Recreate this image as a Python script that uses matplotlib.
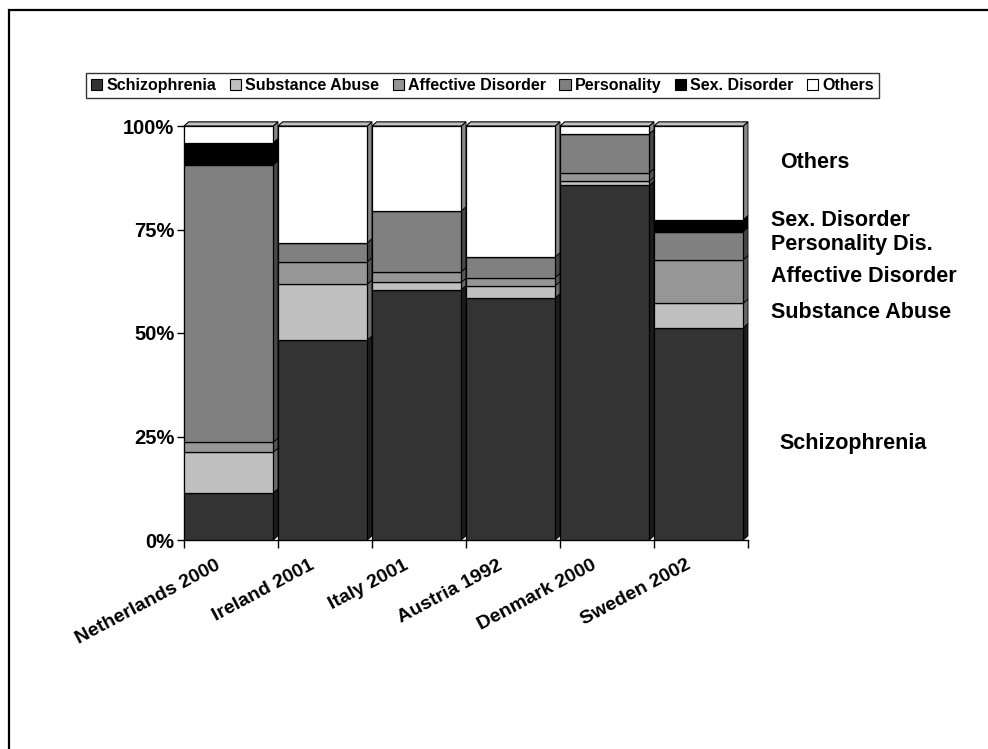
import numpy as np
import matplotlib.pyplot as plt
from matplotlib.patches import Polygon, Rectangle

plt.rcParams['font.family'] = ['Liberation Sans', 'DejaVu Sans']
plt.rcParams['font.weight'] = 'bold'

# data (percent of patients per diagnosis group)
countries = ['Netherlands 2000', 'Ireland 2001', 'Italy 2001', 'Austria 1992',
             'Denmark 2000', 'Sweden 2002']
series_names = ['Schizophrenia', 'Substance Abuse', 'Affective Disorder',
                'Personality', 'Sex. Disorder', 'Others']
schizophrenia = [11.4, 48.3, 60.5, 58.5, 85.7, 51.3]
substance_abuse = [9.8, 13.5, 1.7, 2.9, 0.9, 5.9]
affective = [2.4, 5.4, 2.6, 2.0, 2.1, 10.5]
personality = [67.0, 4.6, 14.7, 5.0, 9.4, 6.8]
sex_disorder = [5.4, 0, 0, 0, 0, 2.9]
others = [4.0, 28.2, 20.5, 31.6, 1.9, 22.6]
right_labels = ['Others', 'Sex. Disorder', 'Personality Dis.',
                'Affective Disorder', 'Substance Abuse', 'Schizophrenia']

series = [schizophrenia, substance_abuse, affective, personality, sex_disorder, others]
front_colors = ['#333333', '#c0c0c0', '#969696', '#808080', '#000000', '#ffffff']
side_colors = ['#1c1c1c', '#6a6a6a', '#555555', '#474747', '#000000', '#888888']

fig = plt.figure(figsize=(9.88, 7.49), dpi=100)
ax = fig.add_axes([184 / 988, 1 - 540 / 749, 564 / 988, 414 / 749])

x = np.arange(len(countries))
w = 0.95    # front face width
dx = 0.05   # depth in x (data units)
dy = 1.0    # depth in y (percent)

bottom = np.zeros(len(countries))
for vals, fc, sc, name in zip(series, front_colors, side_colors, series_names):
    vals = np.array(vals, dtype=float)
    ax.bar(x, vals, width=w, bottom=bottom, align='edge', color=fc,
           edgecolor='black', linewidth=0.9, label=name, zorder=3)
    # right side faces for the 3d look
    for i in range(len(x)):
        if vals[i] <= 0:
            continue
        x1 = x[i] + w
        b, t = bottom[i], bottom[i] + vals[i]
        side = Polygon([(x1, b), (x1 + dx, b + dy), (x1 + dx, t + dy), (x1, t)],
                       closed=True, facecolor=sc, edgecolor='black',
                       linewidth=0.6, zorder=2, clip_on=False)
        ax.add_patch(side)
    bottom += vals

# top faces
for i in range(len(x)):
    top = Polygon([(x[i], bottom[i]), (x[i] + dx, bottom[i] + dy),
                   (x[i] + w + dx, bottom[i] + dy), (x[i] + w, bottom[i])],
                  closed=True, facecolor='#c0c0c0', edgecolor='black',
                  linewidth=0.8, zorder=4, clip_on=False)
    ax.add_patch(top)

ax.set_xlim(0, len(countries))
ax.set_ylim(0, 100)
ax.spines['top'].set_visible(False)
ax.spines['right'].set_visible(False)
ax.spines['left'].set_linewidth(1.0)
ax.spines['bottom'].set_linewidth(1.0)

ax.set_yticks([0, 25, 50, 75, 100])
ax.set_yticklabels(['0%', '25%', '50%', '75%', '100%'], fontsize=14.5, fontweight='bold')
ax.tick_params(axis='y', direction='out', length=5, width=1, pad=2)

ax.set_xticks(np.arange(len(countries) + 1))
ax.set_xticklabels([])
ax.tick_params(axis='x', which='major', direction='out', length=6, width=1)
ax.set_xticks(x + w / 2 - 0.14, minor=True)
ax.set_xticklabels(countries, minor=True, rotation=28, ha='right',
                   rotation_mode='anchor', fontsize=14, fontweight='bold')
ax.tick_params(axis='x', which='minor', length=0, pad=12)

# category labels on the right
label_y = [163, 221, 245, 277, 312, 443]
label_x = [780, 771, 771, 771, 771, 779]
for txt, lx, ly in zip(right_labels, label_x, label_y):
    fig.text(lx / 988, 1 - ly / 749, txt, fontsize=15.5, fontweight='bold',
             ha='left', va='center')

# legend
handles = [Rectangle((0, 0), 1, 1, facecolor=c, edgecolor='black', linewidth=0.8)
           for c in front_colors]
leg = fig.legend(handles, series_names, loc='center',
                 bbox_to_anchor=((85 + 880) / 2 / 988, 1 - 85.5 / 749),
                 ncol=6, prop={'weight': 'bold', 'size': 11.5},
                 frameon=True, fancybox=False, edgecolor='black',
                 handlelength=0.7, handleheight=0.7, handletextpad=0.25,
                 columnspacing=0.85, borderpad=0.3, borderaxespad=0)
leg.get_frame().set_linewidth(1.0)

# outer frame (only left and top edges fall inside the picture)
fig.add_artist(Rectangle((9 / 988, -0.2), 1.2, 1.2 - 10 / 749,
                         transform=fig.transFigure, fill=False,
                         edgecolor='black', linewidth=1.6))

fig.savefig('out.png', dpi=100)
